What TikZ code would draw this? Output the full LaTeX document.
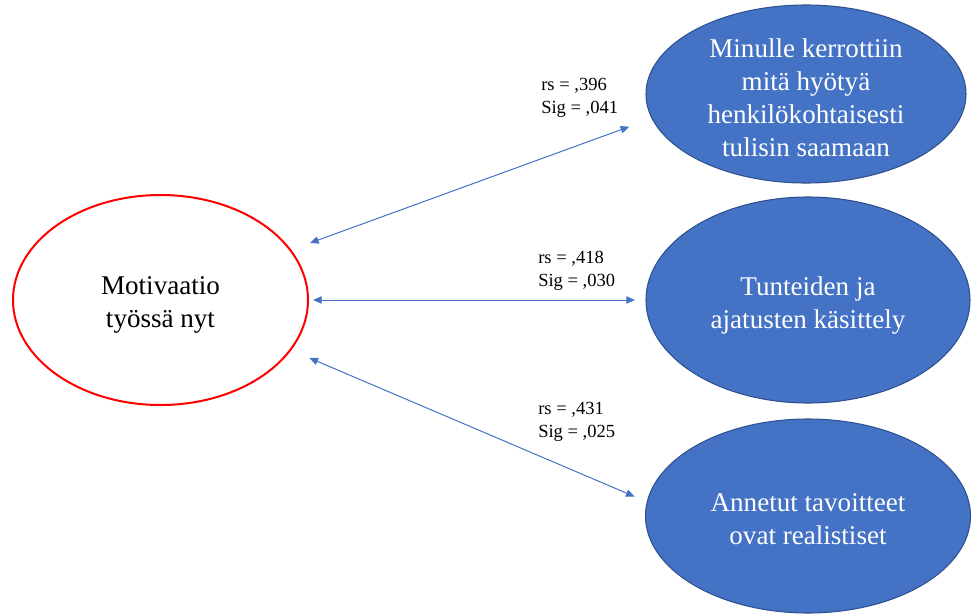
\documentclass[tikz,border=0pt]{standalone}
\usepackage{fontspec}
\setmainfont{Liberation Serif}
\usetikzlibrary{shapes.geometric,arrows.meta}
\definecolor{ofblue}{HTML}{4472C4}
\definecolor{ofedge}{HTML}{2F528F}
\definecolor{ofred}{HTML}{FF0000}
\tikzset{
  redell/.style={ellipse, draw=ofred, line width=1.5pt, fill=white, inner sep=0pt, outer sep=0pt},
  blueell/.style={ellipse, draw=ofedge, line width=0.8pt, fill=ofblue, inner sep=0pt, outer sep=0pt},
  bigtxt/.style={align=center, inner sep=0pt, font=\fontsize{20.3pt}{24.75pt}\selectfont},
  whitetxt/.style={bigtxt, text=white},
  stat/.style={align=left, anchor=west, inner sep=0pt, font=\fontsize{13.9pt}{17.25pt}\selectfont},
  link/.style={draw=ofblue, line width=0.75pt, {Triangle[length=6.5pt,width=5.5pt]}-{Triangle[length=6.5pt,width=5.5pt]}}
}
\begin{document}
\begin{tikzpicture}[x=0.75pt, y=-0.75pt]
  \useasboundingbox (0,0) rectangle (972,615);

  % central construct
  \node[redell, minimum width=295*0.75pt, minimum height=210*0.75pt] (mot) at (160.5,300) {};
  \node[bigtxt] (motT) at (160.5,304.5) {Motivaatio\\työssä nyt};

  % related items
  \node[blueell, minimum width=320*0.75pt, minimum height=178*0.75pt] (top) at (806,94) {};
  \node[whitetxt] (topT) at (806,98) {Minulle kerrottiin\\mitä hyötyä\\henkilökohtaisesti\\tulisin saamaan};

  \node[blueell, minimum width=324*0.75pt, minimum height=206*0.75pt] (mid) at (808,300) {};
  \node[whitetxt] (midT) at (808,305.5) {Tunteiden ja\\ajatusten käsittely};

  \node[blueell, minimum width=325*0.75pt, minimum height=194*0.75pt] (bot) at (808,516) {};
  \node[whitetxt] (botT) at (808,519.5) {Annetut tavoitteet\\ovat realistiset};

  % correlations
  \draw[link, shorten <=15.7pt, shorten >=18.2pt] (mot.21) -- (top.189.6);
  \draw[link, shorten <=3.75pt, shorten >=8.25pt] (mot.0) -- (mid.180);
  \draw[link, shorten <=15.5pt, shorten >=10.3pt] (mot.339.5) -- (bot.175.2);

  \node[stat] (s1) at (541,97.5) {rs = ,396\\Sig = ,041};
  \node[stat] (s2) at (538,270.5) {rs = ,418\\Sig = ,030};
  \node[stat] (s3) at (538,421.5) {rs = ,431\\Sig = ,025};
\end{tikzpicture}
\end{document}
